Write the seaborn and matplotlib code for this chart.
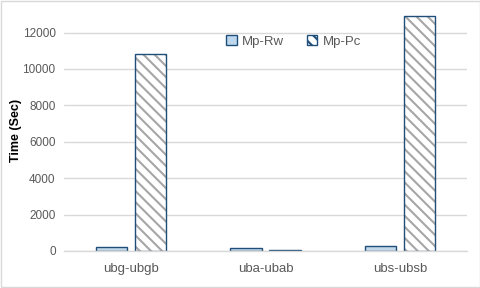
import numpy as np
import pandas as pd
import matplotlib
matplotlib.use("Agg")
import matplotlib.pyplot as plt
from matplotlib.patches import Patch, Rectangle
import seaborn as sns

# ---- data ----
pairs   = ["ubg-ubgb", "uba-ubab", "ubs-ubsb"]
series  = ["Mp-Rw", "Mp-Pc"]
mp_rw   = [200, 150, 270]
mp_pc   = [10850, 50, 12900]
y_ticks = [0, 2000, 4000, 6000, 8000, 10000, 12000]

df = pd.DataFrame({
    "pair"  : pairs * 2,
    "method": [series[0]] * 3 + [series[1]] * 3,
    "time"  : mp_rw + mp_pc,
})

EDGE  = "#1F4E79"
FILL  = "#BDD7EE"
HATCH = "#A6A6A6"
GRID  = "#D9D9D9"
TEXT  = "#595959"

sns.set_style("white")
plt.rcParams["font.family"] = ["Liberation Sans", "DejaVu Sans"]
plt.rcParams["hatch.linewidth"] = 1.5
plt.rcParams["hatch.color"] = HATCH

fig = plt.figure(figsize=(4.81, 2.88), dpi=100)
ax = fig.add_axes([0.133, 0.1285, 0.838, 0.8215])

sns.barplot(data=df, x="pair", y="time", hue="method",
            palette=[FILL, "white"], width=0.58, gap=0.2,
            edgecolor=EDGE, linewidth=1.0, legend=False, ax=ax)

# hatched series: gray stripes, dark-blue outline drawn on top
pc_bars = [p for p in ax.patches if p.get_facecolor()[:3] == (1.0, 1.0, 1.0)]
for p in pc_bars:
    p.set_hatch("\\\\\\")
    p.set_edgecolor(HATCH)
    p.set_linewidth(0)
    ax.add_patch(Rectangle((p.get_x(), p.get_y()), p.get_width(), p.get_height(),
                           fill=False, edgecolor=EDGE, linewidth=1.0, zorder=p.get_zorder() + 0.1))

ax.set_xlim(-0.5, 2.5)
ax.set_ylim(0, 13000)
ax.set_yticks(y_ticks)
ax.set_yticklabels([str(v) for v in y_ticks])
ax.yaxis.grid(True, color=GRID, linewidth=1.0)
ax.set_axisbelow(True)
for s in ["top", "right", "left"]:
    ax.spines[s].set_visible(False)
ax.spines["bottom"].set_color(GRID)
ax.spines["bottom"].set_linewidth(1.0)
ax.tick_params(axis="both", length=0, labelsize=8.5, colors=TEXT, pad=6)
ax.tick_params(axis="x", labelsize=9.5, pad=9)
ax.set_xlabel("")
ax.set_ylabel("Time (Sec)", fontsize=9, fontweight="bold", color="black")
ax.yaxis.set_label_coords(-0.105, 0.51)

handles = [
    Patch(facecolor=FILL, edgecolor=EDGE, linewidth=1.0, label=series[0]),
    Patch(facecolor="white", edgecolor=EDGE, hatch="\\\\\\", linewidth=1.0, label=series[1]),
]
leg = ax.legend(handles=handles, loc="center", bbox_to_anchor=(0.57, 0.885), ncol=2,
                frameon=False, fontsize=9.5, handlelength=0.8, handleheight=0.8,
                handletextpad=0.4, columnspacing=1.7)
for t in leg.get_texts():
    t.set_color(TEXT)

fig.add_artist(Rectangle((0.002, 0.003), 0.995, 0.993, transform=fig.transFigure,
                         fill=False, edgecolor=GRID, linewidth=1.0))

fig.savefig("out.png", dpi=100)
